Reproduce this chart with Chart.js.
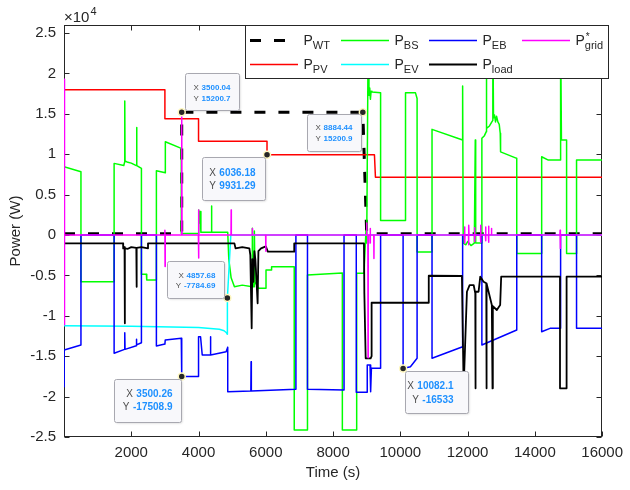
<!DOCTYPE html>
<html>
<head>
<meta charset="utf-8">
<script src="https://cdn.jsdelivr.net/npm/chart.js@4.4.0/dist/chart.umd.min.js"></script>
<style>
  html, body { margin: 0; padding: 0; background: #fff; }
  #wrap { width: 630px; height: 490px; }
</style>
</head>
<body>
<div id="wrap"><canvas id="chart" width="630" height="490"></canvas></div>
<script>
// Axis ticks
const xTicks = [2000, 4000, 6000, 8000, 10000, 12000, 14000, 16000];
const yTicks = [-25000, -20000, -15000, -10000, -5000, 0, 5000, 10000, 15000, 20000, 25000];

// P_WT (wind)
const wtX = [0, 3500, 3500, 8884, 9000, 16000];
const wtY = [150, 150, 15200, 15200, 150, 150];

// P_PV
const pvX = [0, 3000, 3000, 4000, 4000, 6036, 6036, 9230, 9260, 16000];
const pvY = [18000, 18000, 14400, 14400, 11600, 11600, 9931, 9931, 7150, 7150];

// P_BS (battery)
const bsX = [0, 504, 504, 1490, 1490, 1778, 1800, 1807, 1815, 1900, 2000, 2150, 2157, 2170, 2302, 2302, 2450, 2460, 2747, 2747,
  3013, 3013, 3487, 3487, 4000, 4005, 4030, 4050, 4070, 4380, 4385, 4395, 4868, 4900, 4969, 5067, 5300, 5595, 5600, 5620,
  5655, 5660, 5680, 5710, 5778, 6006, 6006, 6172, 6172, 6845, 6845, 7239, 7239, 8276, 8276, 8702, 8702, 8919, 8978, 9000,
  9046, 9067, 9090, 9110, 9130, 9156, 9413, 9413, 10154, 10154, 10450, 10498, 10498, 10942, 10942, 11852, 11852, 11870, 11950, 12000,
  12100, 12200, 12228, 12240, 12424, 12424, 12500, 12555, 12555, 12570, 12650, 12720, 12750, 12750, 12770, 12800, 12830, 12860, 12900, 12940,
  12970, 12980, 13461, 13461, 14202, 14202, 14400, 14747, 14765, 14790, 14943, 14943, 15239, 15239, 16000];
const bsY = [8450, 7830, -5780, -5780, 8870, 8600, 9000, 16600, 9160, 9000, 8900, 8600, 13300, 8600, 8250, -4860, -4860, -5570, -5570, 7960,
  7700, 11550, 10730, 200, 200, 3100, 1500, 2900, 330, 330, 3600, 330, 330, -3000, -5300, -6400, -6200, -6400, 830, -6400,
  -6400, 500, -6000, -5980, -6600, -6600, -4330, -4330, -3920, -3920, -24130, -24130, -4950, -4700, -24130, -24130, -4740, -4740, 500, -1000,
  26000, 17300, 18200, 16800, 17800, 17700, 17600, 1800, 1800, 17600, 17600, 16900, -2100, -2100, 13080, 11760, 18440, -1000, -1200, -800,
  -1300, -1000, 11760, -1000, -1000, 11970, 12300, 12800, 26000, 13200, 13500, 14000, 14200, 26000, 14500, 14850, 14000, 14700, 14000, 13700,
  12600, 10300, 9490, -2270, -2270, 9690, 9280, 9280, 26000, 11760, 11760, -2270, -2270, 9280, 9280];

// P_EV
const evX = [0, 2000, 4000, 4620, 4760, 4830, 4857, 4858, 4960, 16000];
const evY = [-11230, -11300, -11450, -11670, -11850, -12100, -12290, -7785, 0, 0];

// P_EB
const ebX = [0, 5, 504, 504, 1490, 1490, 1800, 1807, 1815, 2150, 2154, 2160, 2302, 2302, 2747, 2747, 3000, 3010, 3487, 3500,
  4000, 4000, 4060, 4110, 4350, 4356, 4362, 4820, 4868, 4868, 5555, 5562, 5570, 6895, 6895, 7239, 7239, 8326, 8326, 8690,
  8690, 9016, 9016, 9100, 9117, 9140, 9413, 9413, 10082, 10082, 10300, 10498, 10498, 10942, 10942, 11852, 11852, 12424, 12424, 13461,
  13461, 14202, 14202, 14450, 14765, 14765, 15239, 15239, 16000];
const ebY = [-18770, -14230, -13610, 0, 0, -14640, -14150, -12090, -14150, -13700, -12900, -13600, -13330, 0, 0, -13740, -13500, -13000, -12790, -17509,
  -17509, -12590, -12590, -14850, -14850, -12590, -14850, -14440, -13900, -19390, -19300, -15680, -19300, -19100, 0, 0, -19100, -19180, 0, 0,
  -19470, -19470, -16090, -16090, -19400, -16500, -16500, 0, 0, -16533, -16300, -15260, 0, 0, -15260, -13820, 0, 0, -13610, -11760,
  0, 0, -11970, -11550, -11550, 0, 0, -11550, -11550];

// P_load
const ldX = [0, 1757, 1760, 1800, 1807, 1812, 1900, 2000, 2150, 2157, 2164, 2300, 2498, 2498, 5067, 5100, 5300, 5511, 5540, 5580,
  5600, 5630, 5660, 5690, 5757, 5780, 5858, 6000, 6060, 6845, 6845, 8919, 8930, 8969, 9117, 9146, 9146, 10845, 10845, 11831,
  11882, 11980, 12060, 12180, 12228, 12232, 12240, 12326, 12376, 12475, 12555, 12560, 12568, 12720, 12740, 12750, 12868, 12968, 12998, 14747,
  14747, 14943, 14943, 16000];
const ldY = [-1030, -1030, -1650, -1500, -10930, -1650, -1700, -1500, -1600, -6400, -1600, -1500, -1650, -1030, -1030, -1650, -1500, -1650, -2500, -11550,
  -3000, -5780, -2000, -3000, -8450, -2000, -1650, -1400, -2060, -2060, -1030, -1030, -7220, -15260, -15260, -15000, -8380, -8380, -5040, -5070,
  -18980, -7020, -6190, -6190, -7220, -18980, -7020, -7020, -5160, -5780, -5980, -18980, -6000, -8660, -18980, -8800, -9280, -8660, -5160, -5160,
  -18980, -18980, -5160, -5160];

// P*_grid
const gridX = [0, 10, 20, 2995, 3000, 3005, 3010, 3495, 3500, 3510, 3995, 4000, 4005, 4010, 4965, 4970, 4975, 5595, 5600, 5605,
  5995, 6000, 6005, 8995, 9000, 9005, 9035, 9040, 9045, 9095, 9100, 9105, 9110, 9210, 9215, 9220, 11905, 11911, 11917, 11923,
  12025, 12030, 12036, 12042, 12203, 12208, 12214, 12220, 12380, 12385, 12391, 12397, 12528, 12533, 12539, 12545, 12617, 12622, 12628, 12634,
  12705, 12710, 12716, 14745, 14750, 14756, 14762, 16000];
const gridY = [19300, -11100, 0, 0, 600, -3900, 0, 0, 14640, 0, 0, 3100, -2850, 0, 0, 3100, 0, 0, 800, 0,
  0, -2000, 0, 0, 1500, 0, 0, -15200, 0, 0, -1000, 800, 0, 0, -2900, 0, 0, 1000, -1000, 0,
  0, -1200, 1200, 0, 0, 900, -800, 0, 0, 1200, -900, 0, 0, 1000, -700, 0, 0, -900, 1100, 0,
  0, 800, 0, 0, 600, -1650, 0, 0];

// Data tips
const tipX = [3500.04, 6036.18, 8884.44, 4857.68, 3500.26, 10082.1];
const tipY = [15200.7, 9931.29, 15200.9, -7784.69, -17508.9, -16533];

const FONT = "'Liberation Sans', Arial, sans-serif";
const AXIS_COLOR = '#262626';

function pts(xs, ys) {
    return xs.map((x, i) => ({ x: x, y: ys[i] }));
}

function series(label, sub, sup, xs, ys, color, width, order, dash) {
    return {
        label: label,
        sub: sub,
        sup: sup,
        data: pts(xs, ys),
        borderColor: color,
        backgroundColor: color,
        borderWidth: width,
        borderDash: dash || [],
        borderJoinStyle: 'round',
        pointRadius: 0,
        tension: 0,
        fill: false,
        order: order
    };
}

const dsWT = series('P_WT', 'WT', '', wtX, wtY, '#000000', 3, 7, [11, 13]);
const dsPV = series('P_PV', 'PV', '', pvX, pvY, '#ff0000', 1.5, 6);
const dsBS = series('P_BS', 'BS', '', bsX, bsY, '#00ff00', 1.5, 5);
const dsEV = series('P_EV', 'EV', '', evX, evY, '#00ffff', 1.5, 4);
const dsEB = series('P_EB', 'EB', '', ebX, ebY, '#0000ff', 1.5, 3);
const dsLD = series('P_load', 'load', '', ldX, ldY, '#000000', 1.8, 2);
const dsGR = series('P_grid', 'grid', '*', gridX, gridY, '#ff00ff', 1.5, 1);

const dsTips = {
    label: 'tips',
    data: pts(tipX, tipY),
    showLine: false,
    pointRadius: 3.5,
    pointBackgroundColor: '#262626',
    pointBorderColor: '#fff8c0',
    pointBorderWidth: 1.5,
    order: 0
};

// legend layout: column-major, 2 rows
const legendItems = [dsWT, dsPV, dsBS, dsEV, dsEB, dsLD, dsGR];

// box placement relative to the tip marker (pixels)
const tipBoxes = [
    { dx: 3, dy: -39, w: 54, h: 37, size: 8, l1: 14, l2: 25, pad: 9 },
    { dx: -65, dy: 2, w: 63, h: 43, size: 10, l1: 16, l2: 28.5, pad: 10 },
    { dx: -56, dy: 2, w: 54, h: 37, size: 8, l1: 13.5, l2: 24, pad: 9 },
    { dx: -60, dy: -37, w: 57, h: 37, size: 8, l1: 14, l2: 24, pad: 9 },
    { dx: -68, dy: 3, w: 67, h: 43, size: 10, l1: 15, l2: 27.7, pad: 9 },
    { dx: 2, dy: 2, w: 63, h: 42, size: 10, l1: 15, l2: 28.3, pad: 15 }
];

function roundRect(ctx, x, y, w, h, r) {
    ctx.beginPath();
    ctx.moveTo(x + r, y);
    ctx.lineTo(x + w - r, y);
    ctx.arcTo(x + w, y, x + w, y + r, r);
    ctx.lineTo(x + w, y + h - r);
    ctx.arcTo(x + w, y + h, x + w - r, y + h, r);
    ctx.lineTo(x + r, y + h);
    ctx.arcTo(x, y + h, x, y + h - r, r);
    ctx.lineTo(x, y + r);
    ctx.arcTo(x, y, x + r, y, r);
    ctx.closePath();
}

// Axes box, inward ticks and exponent label
const framePlugin = {
    id: 'frame',
    beforeDatasetsDraw(chart) {
        const { ctx, chartArea: a, scales } = chart;
        const L = Math.round(a.left) + 0.5, R = Math.round(a.right) - 0.5;
        const T = Math.round(a.top) + 0.5, B = Math.round(a.bottom) - 0.5;
        ctx.save();
        ctx.strokeStyle = AXIS_COLOR;
        ctx.lineWidth = 1;
        ctx.strokeRect(L, T, R - L, B - T);
        ctx.beginPath();
        xTicks.forEach(v => {
            const px = Math.round(scales.x.getPixelForValue(v)) + 0.5;
            ctx.moveTo(px, B); ctx.lineTo(px, B - 5);
            ctx.moveTo(px, T); ctx.lineTo(px, T + 5);
        });
        yTicks.forEach(v => {
            const py = Math.round(scales.y.getPixelForValue(v)) + 0.5;
            ctx.moveTo(L, py); ctx.lineTo(L + 5, py);
            ctx.moveTo(R, py); ctx.lineTo(R - 5, py);
        });
        ctx.stroke();

        ctx.fillStyle = AXIS_COLOR;
        ctx.textBaseline = 'alphabetic';
        ctx.textAlign = 'left';
        ctx.font = '15px ' + FONT;
        ctx.fillText('\u00d710', 64, 22);
        const w = ctx.measureText('\u00d710').width;
        ctx.font = '11px ' + FONT;
        ctx.fillText('4', 64 + w + 1, 15);
        ctx.restore();
    }
};

// Datatip boxes
const tipPlugin = {
    id: 'tips',
    afterDatasetsDraw(chart) {
        const { ctx, scales } = chart;
        ctx.save();
        tipX.forEach((xv, i) => {
            const b = tipBoxes[i];
            const px = scales.x.getPixelForValue(xv);
            const py = scales.y.getPixelForValue(tipY[i]);
            const bx = Math.round(px + b.dx) + 0.5;
            const by = Math.round(py + b.dy) + 0.5;
            ctx.shadowColor = 'rgba(0,0,0,0.15)';
            ctx.shadowBlur = 2;
            ctx.shadowOffsetX = 1;
            ctx.shadowOffsetY = 1;
            roundRect(ctx, bx, by, b.w, b.h, 2);
            ctx.fillStyle = '#f8f8fb';
            ctx.fill();
            ctx.shadowColor = 'transparent';
            ctx.strokeStyle = '#a8a8b0';
            ctx.lineWidth = 1;
            ctx.stroke();

            const right = bx + b.w - b.pad;
            const rows = [['X', String(xv), b.l1], ['Y', String(tipY[i]), b.l2]];
            ctx.textBaseline = 'middle';
            rows.forEach(r => {
                ctx.font = 'bold ' + b.size + 'px ' + FONT;
                ctx.textAlign = 'right';
                ctx.fillStyle = '#1e90ff';
                ctx.fillText(r[1], right, by + r[2]);
                const vw = ctx.measureText(r[1]).width;
                ctx.font = b.size + 'px ' + FONT;
                ctx.fillStyle = '#4d4d4d';
                ctx.fillText(r[0], right - vw - b.size * 0.35, by + r[2]);
            });
        });
        ctx.restore();
    }
};

// Boxed legend inside the axes
const legendPlugin = {
    id: 'boxLegend',
    afterDraw(chart) {
        const ctx = chart.ctx;
        const x0 = 245, y0 = 25, w = 364, h = 54;
        const colX = [250, 341, 429, 522];
        const rowY = [40.5, 64.5];
        ctx.save();
        ctx.fillStyle = '#ffffff';
        ctx.fillRect(x0, y0, w, h);
        ctx.strokeStyle = AXIS_COLOR;
        ctx.lineWidth = 1;
        ctx.strokeRect(x0 + 0.5, y0 + 0.5, w - 1, h - 1);

        legendItems.forEach((ds, i) => {
            const lx = colX[Math.floor(i / 2)];
            const ly = rowY[i % 2];
            ctx.beginPath();
            ctx.strokeStyle = ds.borderColor;
            ctx.lineWidth = ds.borderWidth;
            ctx.setLineDash(ds.borderDash);
            ctx.moveTo(lx, ly);
            ctx.lineTo(lx + 48, ly);
            ctx.stroke();
            ctx.setLineDash([]);

            const tx = lx + 53.5;
            ctx.fillStyle = AXIS_COLOR;
            ctx.textAlign = 'left';
            ctx.textBaseline = 'alphabetic';
            ctx.font = '14px ' + FONT;
            ctx.fillText('P', tx, ly + 4.5);
            const pw = ctx.measureText('P').width;
            ctx.font = '11px ' + FONT;
            ctx.fillText(ds.sub, tx + pw, ly + 8.5);
            if (ds.sup) {
                ctx.font = '10px ' + FONT;
                ctx.fillText(ds.sup, tx + pw + 1, ly - 1);
            }
        });
        ctx.restore();
    }
};

const ctx = document.getElementById('chart').getContext('2d');
const chart = new Chart(ctx, {
    type: 'line',
    data: { datasets: [dsGR, dsLD, dsEB, dsEV, dsBS, dsPV, dsWT, dsTips] },
    options: {
        responsive: false,
        animation: false,
        events: [],
        layout: { padding: { left: 0, right: 25, top: 25, bottom: 0 } },
        plugins: {
            legend: { display: false },
            tooltip: { enabled: false }
        },
        scales: {
            x: {
                type: 'linear',
                min: 0,
                max: 16000,
                afterBuildTicks: (scale) => { scale.ticks = xTicks.map(v => ({ value: v })); },
                afterFit: (scale) => { scale.height = 53; },
                grid: { display: false, drawTicks: false },
                border: { display: false },
                ticks: {
                    color: AXIS_COLOR,
                    font: { family: FONT, size: 15 },
                    padding: 7,
                    maxRotation: 0,
                    autoSkip: false,
                    callback: (v) => String(v)
                },
                title: {
                    display: true,
                    text: 'Time (s)',
                    color: AXIS_COLOR,
                    font: { family: FONT, size: 15 },
                    padding: { top: 0, bottom: 8 }
                }
            },
            y: {
                type: 'linear',
                min: -25000,
                max: 26000,
                afterBuildTicks: (scale) => { scale.ticks = yTicks.map(v => ({ value: v })); },
                afterFit: (scale) => { scale.width = 64; },
                grid: { display: false, drawTicks: false },
                border: { display: false },
                ticks: {
                    color: AXIS_COLOR,
                    font: { family: FONT, size: 15 },
                    padding: 8,
                    autoSkip: false,
                    callback: (v) => String(v / 10000)
                },
                title: {
                    display: true,
                    text: 'Power (W)',
                    color: AXIS_COLOR,
                    font: { family: FONT, size: 15 },
                    padding: { top: 7, bottom: 0 }
                }
            }
        }
    },
    plugins: [framePlugin, tipPlugin, legendPlugin]
});
</script>
</body>
</html>
